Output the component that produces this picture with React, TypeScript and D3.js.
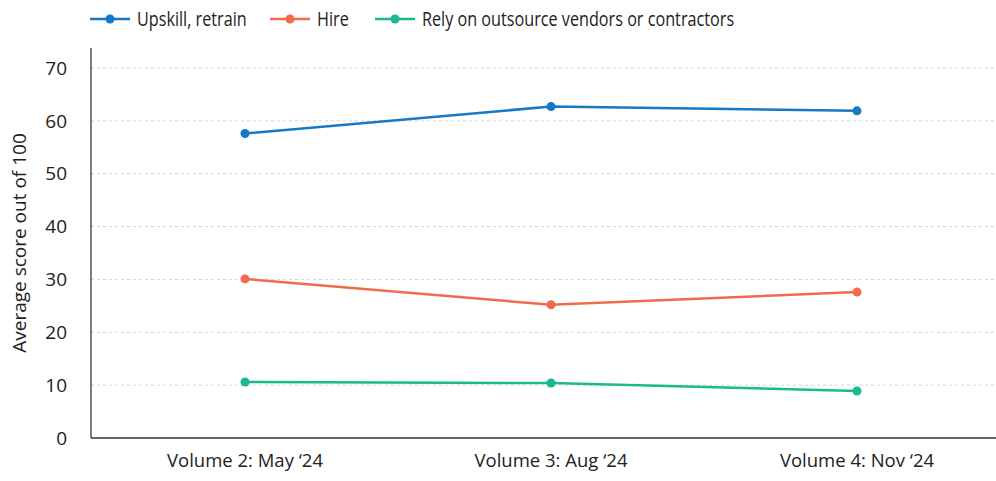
import * as React from "react";
import * as d3 from "d3";

const categories = ["Volume 2: May \u201824", "Volume 3: Aug \u201824", "Volume 4: Nov \u201824"];
const upskill = [57.6, 62.7, 61.9];
const hire = [30.1, 25.2, 27.6];
const outsource = [10.6, 10.4, 8.9];
const yTicks = [0, 10, 20, 30, 40, 50, 60, 70];

const series = [
  { name: "Upskill, retrain", values: upskill, color: "#1679c5" },
  { name: "Hire", values: hire, color: "#f26a4b" },
  { name: "Rely on outsource vendors or contractors", values: outsource, color: "#1bb990" },
];

const W = 996;
const H = 481;
const font = "'Open Sans', sans-serif";

export default function App() {
  const left = 91;
  const bottom = 438;

  const x = React.useMemo(
    () => d3.scalePoint<string>().domain(categories).range([245, 857]),
    []
  );
  const y = React.useMemo(() => d3.scaleLinear().domain([0, 70]).range([bottom, 68]), []);

  const line = d3
    .line<number>()
    .x((_, i) => x(categories[i]) as number)
    .y((d) => y(d));

  // legend item x offsets
  const legendX = [90, 270, 375];

  return (
    <svg width={W} height={H} style={{ position: "absolute", left: 0, top: 0 }} fontFamily={font}>
      {yTicks.slice(1).map((t) => (
        <line
          key={t}
          x1={left}
          x2={W}
          y1={y(t)}
          y2={y(t)}
          stroke="#d4d4d4"
          strokeDasharray="3,3"
          strokeWidth={1}
        />
      ))}
      <line x1={left} x2={left} y1={48} y2={bottom} stroke="#555" strokeWidth={1.5} />
      <line x1={left} x2={W} y1={bottom} y2={bottom} stroke="#333" strokeWidth={1.5} />
      {yTicks.map((t) => (
        <text key={t} x={67} y={y(t)} dy="0.35em" textAnchor="end" fontSize={19} fill="#222">
          {t}
        </text>
      ))}
      <text
        transform={`translate(26,243) rotate(-90)`}
        textAnchor="middle"
        fontSize={19}
        fill="#222"
      >
        Average score out of 100
      </text>
      {categories.map((c) => (
        <text key={c} x={x(c)} y={467} textAnchor="middle" fontSize={18.5} fill="#222">
          {c}
        </text>
      ))}
      {series.map((s) => (
        <g key={s.name}>
          <path d={line(s.values) || ""} fill="none" stroke={s.color} strokeWidth={2.5} />
          {s.values.map((v, i) => (
            <circle key={i} cx={x(categories[i])} cy={y(v)} r={4.5} fill={s.color} />
          ))}
        </g>
      ))}
      {series.map((s, i) => (
        <g key={s.name} transform={`translate(${legendX[i]},19)`}>
          <line x1={0} x2={40} y1={0} y2={0} stroke={s.color} strokeWidth={2.5} />
          <circle cx={20} cy={0} r={4.5} fill={s.color} />
          <text
            transform="translate(47,0) scale(0.81,1)"
            dy="0.35em"
            fontSize={20}
            fill="#222"
          >
            {s.name}
          </text>
        </g>
      ))}
    </svg>
  );
}
